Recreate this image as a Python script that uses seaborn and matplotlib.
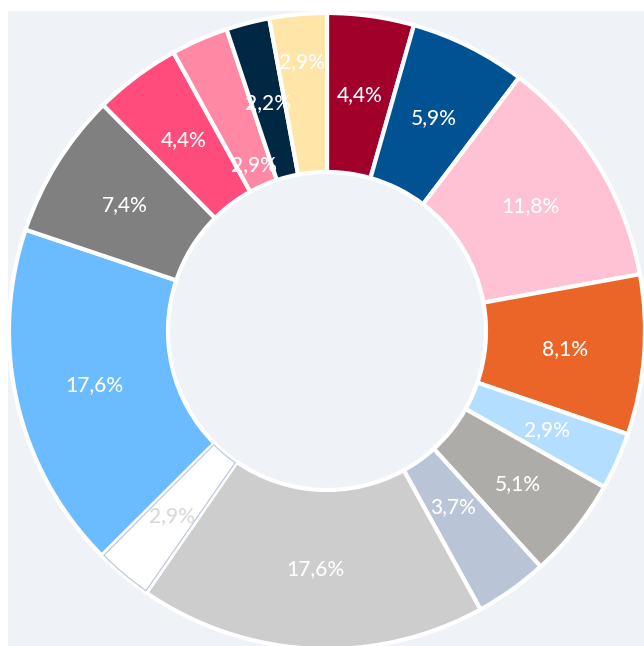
import matplotlib
matplotlib.use("Agg")
import matplotlib.pyplot as plt
from matplotlib.patches import Rectangle, Wedge
import numpy as np
import seaborn as sns

# Share of each group, clockwise from 12 o'clock
shares = [4.4, 5.9, 11.8, 8.1, 2.9, 5.1, 3.7, 17.6, 2.9, 17.6, 7.4, 4.4, 2.9, 2.2, 2.9]
slice_colors = ["#A0002A", "#005293", "#FFC2D4", "#EB6428", "#B4DEFF",
                "#AEACA9", "#B9C5D6", "#CDCDCD", "#FFFFFF", "#6ABBFF",
                "#808080", "#FF4C7C", "#FF88A5", "#002845", "#FFE5A8"]
label_colors = ["white"] * 8 + ["#D9D9D9"] + ["white"] * 6
# radial placement of each label as a fraction of the outer radius
label_radius = [0.75, 0.75, 0.75, 0.75, 0.76, 0.77, 0.68, 0.75,
                0.76, 0.75, 0.75, 0.75, 0.57, 0.74, 0.85]

sns.set_theme(style="white")
plt.rcParams["font.family"] = ["Lato", "DejaVu Sans"]

W, H = 644, 646
fig = plt.figure(figsize=(W / 100, H / 100), dpi=100)
fig.patch.set_facecolor("white")
ax = fig.add_axes([0, 0, 1, 1])

# panel background
ax.add_patch(Rectangle((8, 0), W - 8, H - 11, facecolor="#EFF3F7", edgecolor="none", zorder=0))

cx, cy = 327, 315
R = 318
ring = 0.5

palette = sns.color_palette(slice_colors)
wedges, _ = ax.pie(shares, colors=palette, startangle=90, counterclock=False,
                   center=(cx, cy), radius=R,
                   wedgeprops=dict(width=R * ring, edgecolor="white", linewidth=3))
for w in wedges:
    w.set_zorder(2)

# thin outline for the white slice
ws = wedges[8]
ax.add_patch(Wedge((cx, cy), R - 1.5, ws.theta1 + 0.25, ws.theta2 - 0.25,
                   width=R * ring - 3, fill=False, edgecolor="#B9C5D6",
                   linewidth=0.8, zorder=3))

for w, v, c, rf in zip(wedges, shares, label_colors, label_radius):
    ang = np.deg2rad((w.theta1 + w.theta2) / 2)
    ax.text(cx + rf * R * np.cos(ang), cy + rf * R * np.sin(ang),
            f"{v:.1f}".replace(".", ",") + "%", ha="center", va="center",
            color=c, fontsize=15, fontweight="medium", zorder=4)

ax.set_xlim(0, W)
ax.set_ylim(0, H)
ax.set_aspect("auto")
ax.axis("off")

fig.savefig("out.png", dpi=100)
